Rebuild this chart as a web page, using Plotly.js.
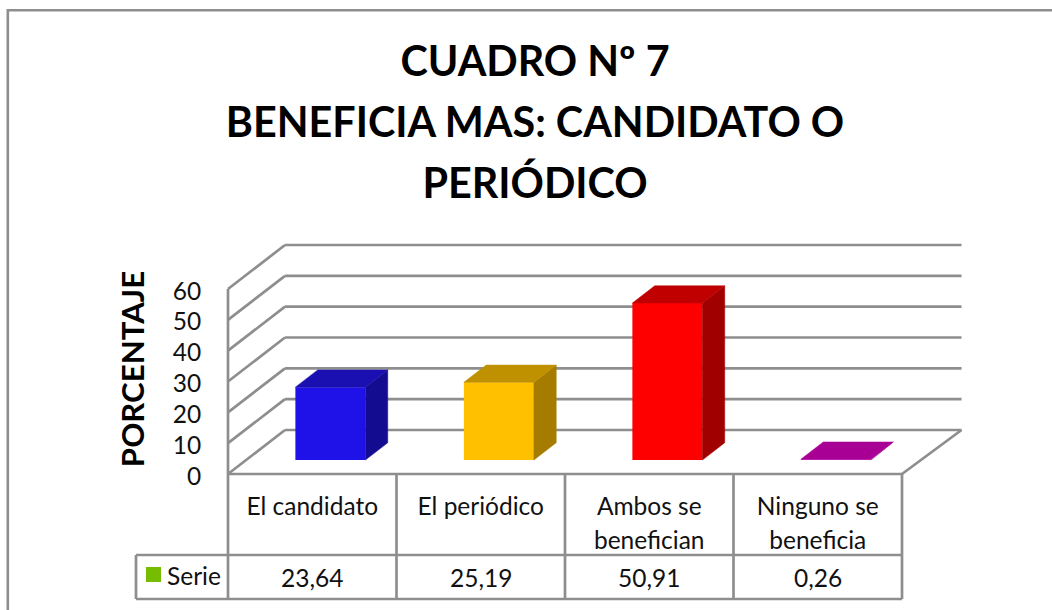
<!DOCTYPE html>
<html><head><meta charset="utf-8">
<script src="https://cdn.plot.ly/plotly-3.0.1.min.js"></script>
<style>html,body{margin:0;padding:0;background:#fff}#c{width:1052px;height:610px}</style>
</head><body><div id="c"></div>
<script>
const categories = ['El candidato','El periódico','Ambos se<br>benefician','Ninguno se<br>beneficia'];
const values = [23.64,25.19,50.91,0.26];
const valueLabels = ['23,64','25,19','50,91','0,26'];
const yTicks = [0,10,20,30,40,50,60];
const frontColors = ['#1F12E8','#FFC000','#FF0000','#C000B0'];
const topColors = ['#1A0FB0','#BF9000','#C00000','#A80095'];
const sideColors = ['#140C90','#A67C00','#A00000','#A80095'];
const seriesName = 'Serie';
const gray = '#8E8E8E';

// pixel scale: one category = 168.5px, one y unit = 3.083px
const PX_X = 168.5, PX_Y = 3.083;
const L = 220, R = 972, T = 238, B = 500, X0 = 228, Y0 = 474;
const xr = [(L-X0)/PX_X, (R-X0)/PX_X];
const yr = [(Y0-B)/PX_Y, (Y0-T)/PX_Y];
const DX = 57/PX_X, DY = 44/PX_Y;           // depth of the floor in data units
const proj = (x,v,d) => [x + DX*d, v + DY*d];
const D0 = 0.318, D1 = 0.71, BW = 70/PX_X;
const n = categories.length;
const tableY1 = 555, tableY2 = 599, legendPx = 136;
const BACK_EXTRA = 0.015;

const shapes = [];
const seg = (a,b) => ({type:'line',xref:'x',yref:'y',layer:'below',x0:a[0],y0:a[1],x1:b[0],y1:b[1],
  line:{color:gray,width:2.7}});
yTicks.forEach(v=>{
  shapes.push(seg(proj(0,v,0),proj(0,v,1)));
  shapes.push(seg(proj(0,v,1),proj(n+BACK_EXTRA,v,1)));
});
shapes.push(seg(proj(0,0,0),proj(0,60,0)));
shapes.push(seg(proj(0,0,0),proj(n,0,0)));
shapes.push(seg(proj(n,0,0),proj(n+BACK_EXTRA,0,1)));
// page-relative fractions for frame and data table
const fx = px => (px-L)/(R-L), fy = py => (B-py)/(B-T);
const pseg = (x0,y0,x1,y1) => ({type:'line',xref:'paper',yref:'paper',layer:'below',x0:fx(x0),y0:fy(y0),x1:fx(x1),y1:fy(y1),
  line:{color:gray,width:2.7}});
shapes.push({type:'rect',xref:'paper',yref:'paper',layer:'below',
  x0:fx(7.8),x1:fx(1100),y0:fy(640),y1:fy(10.3),line:{color:gray,width:2.6},fillcolor:'rgba(0,0,0,0)'});
const xEnd = X0+n*PX_X;
shapes.push(pseg(legendPx,tableY1,xEnd,tableY1));
shapes.push(pseg(legendPx,tableY2,xEnd,tableY2));
shapes.push(pseg(legendPx,tableY1,legendPx,tableY2));
for(let i=0;i<=n;i++) shapes.push(pseg(X0+i*PX_X,Y0,X0+i*PX_X,tableY2));
// legend key in the table's first cell
shapes.push({type:'rect',xref:'paper',yref:'paper',layer:'above',x0:fx(146),x1:fx(161),y0:fy(582),y1:fy(567),
  line:{width:0},fillcolor:'#76BC00'});

const traces = [];
traces.push({type:'bar',x:values.map((_,i)=>i+0.5+DX*D0),y:values,base:values.map(()=>DY*D0),width:BW,
  marker:{color:frontColors,line:{width:0}},showlegend:false,hoverinfo:'skip'});
values.forEach((v,i)=>{
  const xa=i+0.5-BW/2, xb=i+0.5+BW/2;
  const poly=(pts,c)=>traces.push({type:'scatter',mode:'lines',fill:'toself',fillcolor:c,line:{color:c,width:0.5},
    x:pts.map(p=>p[0]),y:pts.map(p=>p[1]),showlegend:false,hoverinfo:'skip',cliponaxis:false});
  poly([proj(xb,0,D0),proj(xb,0,D1),proj(xb,v,D1),proj(xb,v,D0),proj(xb,0,D0)],sideColors[i]);
  poly([proj(xa,v,D0),proj(xb,v,D0),proj(xb,v,D1),proj(xa,v,D1),proj(xa,v,D0)],topColors[i]);
});

const FONT='Lato, sans-serif', FS=24.5, TC='#111';
const annotations = values.map((v,i)=>({xref:'paper',yref:'paper',x:fx(X0+(i+0.5)*PX_X),y:fy(577),text:valueLabels[i],showarrow:false,
    xanchor:'center',yanchor:'middle',font:{size:FS,family:FONT,color:TC}}));
annotations.push({xref:'paper',yref:'paper',x:fx(165),y:fy(575),text:seriesName,showarrow:false,
    xanchor:'left',yanchor:'middle',font:{size:FS,family:FONT,color:TC}});
const layout = {
  width:1052,height:610,paper_bgcolor:'#fff',plot_bgcolor:'rgba(0,0,0,0)',
  margin:{l:L,r:1052-R,t:T,b:610-B,pad:0},
  font:{family:FONT,color:TC,size:FS},
  title:{text:'<b><span style="font-size:41.3px">CUADRO Nº 7<br>BENEFICIA MAS: CANDIDATO O<br>PERIÓDICO</span></b>',
    font:{family:FONT,size:47,color:'#000'},x:535/1052,xanchor:'center',xref:'container',y:1-76/610,yanchor:'top',yref:'container',automargin:false},
  xaxis:{range:xr,fixedrange:true,showgrid:false,zeroline:false,showline:false,
    tickmode:'array',tickvals:categories.map((_,i)=>i+0.5),
    ticktext:categories.map(c=>'<span style="font-size:24.5px">'+c+'</span>'),
    tickfont:{size:25.4,family:FONT,color:TC},ticks:'outside',ticklen:10,tickcolor:'rgba(0,0,0,0)',
    anchor:'free',position:(B-Y0)/(B-T),automargin:false},
  yaxis:{range:yr,fixedrange:true,showgrid:false,zeroline:false,showline:false,
    tickmode:'array',tickvals:yTicks,ticktext:yTicks.map(String),tickfont:{size:FS,family:FONT,color:TC},
    ticklabelshift:2,
    ticks:'outside',ticklen:13,tickcolor:'rgba(0,0,0,0)',automargin:false,
    title:{text:'<b>PORCENTAJE</b>',font:{size:31.2,family:FONT,color:'#000'},standoff:18}},
  showlegend:false,
  barmode:'overlay',
  shapes:shapes,
  annotations:annotations
};
Plotly.newPlot('c',traces,layout,{displayModeBar:false,staticPlot:true,responsive:false});
</script></body></html>
